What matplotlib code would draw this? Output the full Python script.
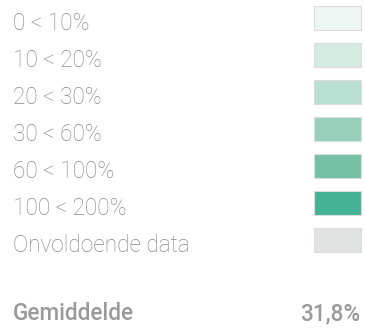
import matplotlib
matplotlib.use('Agg')
import matplotlib.pyplot as plt

TEXT_SIZE = 16.3
matplotlib.rc('font', family=['Roboto', 'DejaVu Sans'], size=TEXT_SIZE)

# legend classes and their fill colours
labels = ['0 < 10%', '10 < 20%', '20 < 30%', '30 < 60%', '60 < 100%',
          '100 < 200%', 'Onvoldoende data']
colors = ['#edf6f2', '#d4ebe2', '#b8dfd1', '#98d0bb', '#75c1a6',
          '#44b294', '#e1e2e2']
avg_label = 'Gemiddelde'
avg_value = 31.8

W, H = 365, 329
fig = plt.figure(figsize=(W / 100, H / 100), dpi=100)
ax = fig.add_axes([0, 0, 1, 1])
ax.set_xlim(0, W)
ax.set_ylim(H, 0)
ax.axis('off')

row_top = 6
row_step = 37
sw_h = 24
rows = [row_top + sw_h / 2 + row_step * i for i in range(len(labels))]

ax.barh(rows, 46.5, left=314, height=sw_h, color=colors,
        edgecolor='#dcdcdc', linewidth=0.8)

for y, lab in zip(rows, labels):
    ax.text(13, y + 12, lab, color='#888888', fontweight='light',
            ha='left', va='baseline')

ax.text(13, 320, avg_label, color='#9a9a9a', fontweight='medium',
        ha='left', va='baseline')
ax.text(360, 320, f'{avg_value:.1f}%'.replace('.', ','), color='#9a9a9a',
        fontweight='medium', ha='right', va='baseline')

plt.savefig('out.png', dpi=100)
